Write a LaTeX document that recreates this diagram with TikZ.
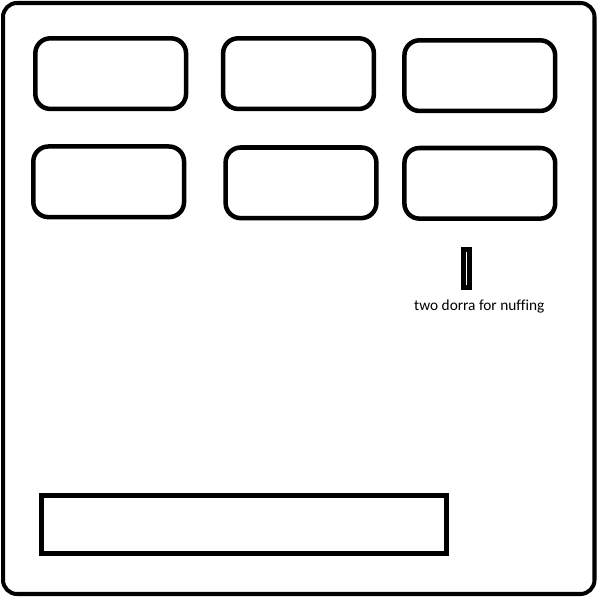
\documentclass[tikz,border=0pt]{standalone}
\usepackage{fontspec}
\setmainfont{Carlito}[Ligatures=NoCommon]
\usetikzlibrary{positioning}

\begin{document}
\begin{tikzpicture}[x=1pt, y=-1pt, every node/.style={inner sep=0pt, outer sep=0pt},
	btn/.style={draw, line width=4.5pt, rounded corners=15pt, minimum width=150.5pt, minimum height=70.5pt},
	slot/.style={draw, line width=5pt, minimum width=6pt, minimum height=38pt},
	screen/.style={draw, line width=4.5pt, minimum width=404pt, minimum height=58pt}]
	\useasboundingbox (0,0) rectangle (598,599);
	\draw[line width=4pt, rounded corners=14pt] (3,3) rectangle (593.5,593);
	\node[btn] (b1) at (110.5,73.5) {};
	\node[btn] (b2) at (298,73.5) {};
	\node[btn] (b3) at (479,75.5) {};
	\node[btn] (b4) at (108.5,181.5) {};
	\node[btn] (b5) at (300.5,182.5) {};
	\node[btn] (b6) at (479,183) {};
	\node[slot] (coin) at (466,268) {};
	\node[font=\fontsize{15.3}{18}\selectfont, anchor=north] (price) at (478.5,299) {two dorra for nuffing};
	\node[screen] (tray) at (243.5,523.5) {};
\end{tikzpicture}
\end{document}
